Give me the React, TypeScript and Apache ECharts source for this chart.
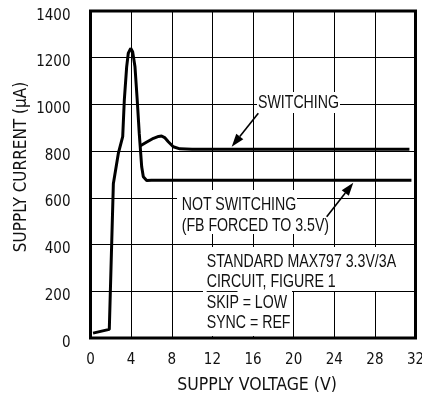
import React, { useEffect, useRef } from "react";
import * as echarts from "echarts";

const xTicks = [0, 4, 8, 12, 16, 20, 24, 28, 32];
const yTicks = [0, 200, 400, 600, 800, 1000, 1200, 1400];

const notSwV = [0.25, 1.85, 2.25, 2.74, 3.17, 3.33, 3.56, 3.72, 3.96, 4.15, 4.38, 4.6, 4.8, 5.04, 5.2, 5.53, 6.0, 31.6];
const notSwI = [21, 37, 660, 790, 862, 1019, 1161, 1219, 1240, 1226, 1161, 1019, 876, 733, 690, 674, 675, 675];

const swV = [4.88, 5.5, 6.2, 6.7, 7.0, 7.3, 7.66, 8.15, 8.8, 10, 31.4];
const swI = [822, 838, 855, 863, 865, 858, 840, 819, 810, 808, 808];

const AXFONT = "'DejaVu Sans Condensed', 'Liberation Sans', sans-serif";
const ANFONT = "'Liberation Sans', Arial, sans-serif";
const SX = 0.81;

function arrow(x1: number, y1: number, x2: number, y2: number) {
  const dx = x2 - x1, dy = y2 - y1;
  const len = Math.sqrt(dx * dx + dy * dy);
  const ux = dx / len, uy = dy / len;
  const hl = 13, hw = 4.5;
  const bx = x2 - ux * hl, by = y2 - uy * hl;
  const px = -uy, py = ux;
  return [
    { type: "line", shape: { x1, y1, x2: bx, y2: by }, style: { stroke: "#000", lineWidth: 1.6 }, z: 100 },
    {
      type: "polygon",
      shape: { points: [[x2, y2], [bx + px * hw, by + py * hw], [bx - px * hw, by - py * hw]] },
      style: { fill: "#000" },
      z: 100,
    },
  ];
}

function txt(text: string, x: number, y: number, align = "left") {
  return {
    type: "text",
    x,
    y,
    scaleX: SX,
    z: 101,
    style: { text, fill: "#111", font: `17.5px ${ANFONT}`, align, verticalAlign: "middle" },
  };
}

function wrect(x: number, y: number, w: number, h: number) {
  return { type: "rect", shape: { x, y, width: w, height: h }, style: { fill: "#fff" }, z: 50 };
}

export default function App() {
  const ref = useRef<HTMLDivElement>(null);
  useEffect(() => {
    const chart = echarts.init(ref.current!, null, { renderer: "svg" });
    const notSw = notSwV.map((v, i) => [v, notSwI[i]]);
    const sw = swV.map((v, i) => [v, swI[i]]);
    chart.setOption({
      animation: false,
      grid: {
        left: 90.5,
        right: 6.5,
        top: 11,
        bottom: 62,
        show: true,
        borderColor: "#000",
        borderWidth: 3,
        z: 10,
        outerBoundsMode: "none",
        containLabel: false,
      },
      xAxis: {
        type: "value",
        min: 0,
        max: 32,
        interval: 4,
        name: "SUPPLY VOLTAGE (V)",
        nameLocation: "middle",
        nameGap: 37,
        nameTextStyle: { fontFamily: AXFONT, fontSize: 17.5, color: "#111", padding: [0, 0, 0, 8] },
        axisLine: { show: false },
        axisTick: { show: false },
        axisLabel: {
          fontFamily: AXFONT,
          fontSize: 15,
          color: "#111",
          margin: 13,
          showMinLabel: true,
          showMaxLabel: true,
          formatter: (v: number) => (xTicks.includes(v) ? String(v) : ""),
        },
        splitLine: { show: true, lineStyle: { color: "#000", width: 1 } },
      },
      yAxis: {
        type: "value",
        min: 0,
        max: 1400,
        interval: 200,
        axisLine: { show: false },
        axisTick: { show: false },
        axisLabel: {
          fontFamily: AXFONT,
          fontSize: 15,
          color: "#111",
          margin: 20,
          verticalAlign: "top",
          padding: [-4, 0, 0, 0],
          formatter: (v: number) => (yTicks.includes(v) ? String(v) : ""),
        },
        splitLine: { show: true, lineStyle: { color: "#000", width: 1 } },
      },
      series: [
        {
          type: "line",
          data: notSw,
          showSymbol: false,
          symbol: "none",
          lineStyle: { color: "#000", width: 3 },
          z: 20,
        },
        {
          type: "line",
          data: sw,
          showSymbol: false,
          symbol: "none",
          lineStyle: { color: "#000", width: 3 },
          z: 20,
        },
      ],
      graphic: [
        {
          type: "text",
          x: 20,
          y: 167,
          rotation: Math.PI / 2,
          style: {
            text: "SUPPLY CURRENT (\u00b5A)",
            fill: "#111",
            font: `17px ${AXFONT}`,
            align: "center",
            verticalAlign: "middle",
          },
        },
        wrect(257, 92, 83, 21),
        txt("SWITCHING", 298.5, 102, "center"),
        ...arrow(258.3, 113.3, 231.7, 146.7),
        wrect(177, 190, 120, 44),
        txt("NOT SWITCHING", 181.7, 204),
        txt("(FB FORCED TO 3.5V)", 181.7, 224.5),
        ...arrow(326.7, 216.7, 353.3, 182.7),
        wrect(203, 247, 197, 44),
        wrect(203, 291, 89, 45),
        txt("STANDARD MAX797 3.3V/3A", 206.7, 260.5),
        txt("CIRCUIT, FIGURE 1", 206.7, 281),
        txt("SKIP = LOW", 206.7, 301.5),
        { type: "line", shape: { x1: 206.7, y1: 291.5, x2: 237.5, y2: 291.5 }, style: { stroke: "#111", lineWidth: 1 }, z: 101 },
        txt("SYNC = REF", 206.7, 322),
      ],
    });
    return () => chart.dispose();
  }, []);
  return <div ref={ref} style={{ position: "fixed", left: 0, top: 0, width: 422, height: 400 }} />;
}
